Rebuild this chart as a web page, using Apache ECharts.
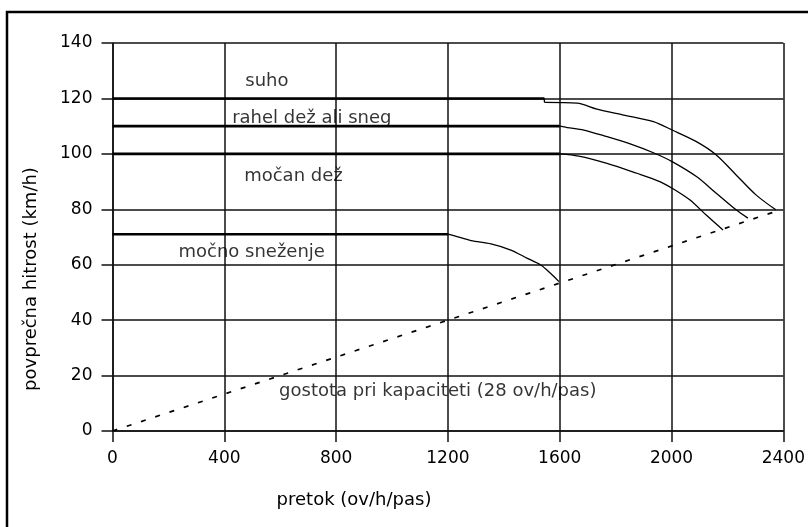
<!DOCTYPE html>
<html>
<head>
<meta charset="utf-8">
<script src="https://cdn.jsdelivr.net/npm/echarts@6/dist/echarts.min.js"></script>
<style>
html,body{margin:0;padding:0;background:#fff;}
#chart{width:808px;height:527px;}
</style>
</head>
<body>
<div id="chart"></div>
<script>
// Tick values
var xTicks = [0, 400, 800, 1200, 1600, 2000, 2400];
var yTicks = [0, 20, 40, 60, 80, 100, 120, 140];

// Constant-speed (thick) segments
var suhoFlat = [[0, 120], [1545, 120]];
var rahelFlat = [[0, 110], [1600, 110]];
var mocanFlat = [[0, 100], [1600, 100]];
var snegFlat = [[0, 71], [1200, 71]];

// Curved (thin) segments
var suhoStep = [[1545, 120], [1545, 118.6]];
var suhoCurve = [[1545, 118.6], [1662, 118.3], [1733, 116.1], [1828, 114.0], [1935, 111.6], [2002, 108.6], [2089, 104.4], [2160, 99.6], [2231, 92.4], [2302, 85.2], [2373, 79.8]];
var rahelCurve = [[1600, 110], [1627, 109.5], [1686, 108.6], [1769, 106.2], [1852, 103.6], [1935, 100.4], [2002, 97.2], [2089, 91.8], [2160, 85.8], [2231, 79.8], [2273, 76.8]];
var mocanCurve = [[1600, 100], [1668, 99.2], [1769, 96.6], [1876, 93.0], [1958, 90.0], [2002, 87.6], [2065, 83.4], [2124, 77.9], [2184, 72.5]];
var snegCurve = [[1200, 71], [1224, 70.4], [1283, 68.7], [1354, 67.5], [1425, 65.3], [1484, 62.3], [1532, 59.9], [1567, 56.9], [1597, 53.9]];

// Capacity density line
var capacityLine = [[0, 0], [1200, 40], [2375, 79.3]];

// Annotation labels [x, y, text]
var labels = [
  [475, 126.3, 'suho'],
  [428, 113, 'rahel dež ali sneg'],
  [471, 92, 'močan dež'],
  [236, 64.6, 'močno sneženje'],
  [596, 14.4, 'gostota pri kapaciteti (28 ov/h/pas)']
];

var xName = 'pretok (ov/h/pas)';
var yName = 'povprečna hitrost (km/h)';

var FONT = 'DejaVu Sans';
var chart = echarts.init(document.getElementById('chart'), null, {renderer: 'canvas'});

function thick(d) {
  return {type: 'line', data: d, symbol: 'none', silent: true, z: 5,
    lineStyle: {color: '#000', width: 2.6}};
}
function thin(d, sm) {
  return {type: 'line', data: d, symbol: 'none', silent: true, z: 5,
    smooth: sm ? 0.3 : false,
    lineStyle: {color: '#000', width: 1.3}};
}

var option = {
  animation: false,
  backgroundColor: '#fff',
  grid: {left: 112.5, right: 20.7, top: 43, bottom: 96, containLabel: false},
  xAxis: {
    type: 'value', min: 0, max: 2400, interval: 400,
    axisLine: {show: true, lineStyle: {color: '#111', width: 1.5}},
    axisTick: {show: true, inside: false, length: 11, lineStyle: {color: '#111', width: 1.5}},
    axisLabel: {margin: 19, color: '#000', fontFamily: FONT, fontSize: 17,
      formatter: function (v) { return xTicks.indexOf(v) >= 0 ? String(v) : ''; }},
    splitLine: {show: true, lineStyle: {color: '#111', width: 1.5}}
  },
  yAxis: {
    type: 'value', min: 0, max: 140, interval: 20,
    axisLine: {show: true, lineStyle: {color: '#111', width: 1.5}},
    axisTick: {show: true, inside: false, length: 11, lineStyle: {color: '#111', width: 1.5}},
    axisLabel: {margin: 20, color: '#000', fontFamily: FONT, fontSize: 17,
      formatter: function (v) { return yTicks.indexOf(v) >= 0 ? String(v) : ''; }},
    splitLine: {show: true, lineStyle: {color: '#111', width: 1.5}}
  },
  series: [
    thick(suhoFlat), thick(rahelFlat), thick(mocanFlat), thick(snegFlat),
    thin(suhoStep, false),
    thin(suhoCurve, true), thin(rahelCurve, true), thin(mocanCurve, true), thin(snegCurve, true),
    {type: 'line', data: capacityLine, symbol: 'none', silent: true, z: 4,
      lineStyle: {color: '#000', width: 1.7, type: [5, 10]}},
    {type: 'scatter', symbolSize: 0, silent: true, z: 6,
      data: labels.map(function (l) { return {value: [l[0], l[1]], name: l[2]}; }),
      label: {show: true, position: 'right', distance: 0, color: '#000',
        fontFamily: FONT, fontSize: 18,
        formatter: function (p) { return p.name; }}}
  ],
  graphic: [
    {type: 'rect', shape: {x: 7, y: 12, width: 830, height: 560},
      style: {fill: 'none', stroke: '#000', lineWidth: 2.5}, z: 100},
    {type: 'text', x: 31, y: 279, rotation: Math.PI / 2,
      style: {text: yName, fontFamily: FONT, fontSize: 18, fill: '#000',
        textAlign: 'center', textVerticalAlign: 'middle'}},
    {type: 'text', x: 354, y: 500,
      style: {text: xName, fontFamily: FONT, fontSize: 18, fill: '#000',
        textAlign: 'center', textVerticalAlign: 'middle'}}
  ]
};
chart.setOption(option);
</script>
</body>
</html>
